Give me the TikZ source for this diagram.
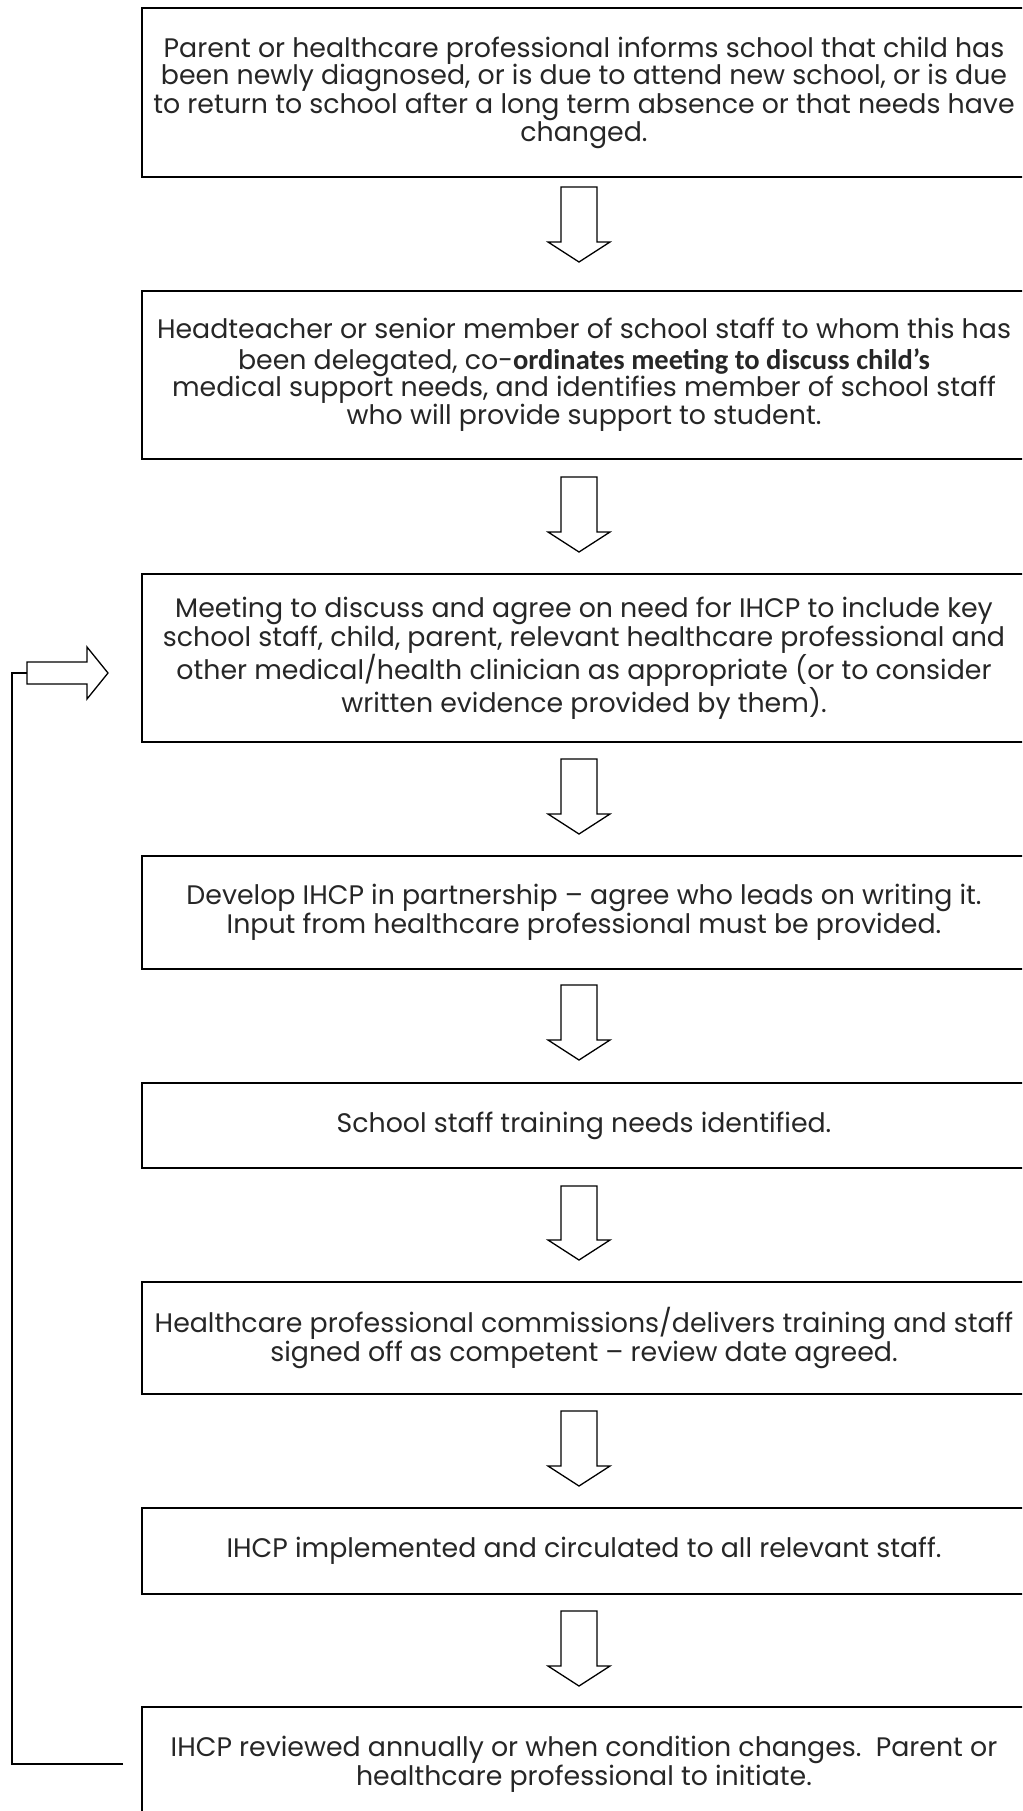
\documentclass[tikz,border=0pt]{standalone}
\usepackage{fontspec}
\setmainfont{Poppins}
\newfontfamily\boldpart{Carlito}
\newcommand\flowdown[2]{\draw[barrow] (561,-#1) -- (597,-#1) -- (597,-#2+20) -- (610,-#2+20) -- (579,-#2) -- (548,-#2+20) -- (561,-#2+20) -- cycle;}
\begin{document}
\begin{tikzpicture}[x=1pt,y=1pt,
  box/.style={draw=black,line width=2.4pt,rectangle,minimum width=884pt,inner sep=0pt,align=center,
    font=\fontsize{26.8}{27.7}\selectfont,text=black!85},
  barrow/.style={draw=black,line width=1.3pt,fill=white,line join=miter},
  fbline/.style={draw=black,line width=1.3pt}]
\useasboundingbox (0,0) rectangle (1022,-1811);
\clip (0,0) rectangle (1022,-1811);
\node[box,minimum height=169pt] (b1) at (584,-92.5) {Parent or healthcare professional informs school that child has\\been newly diagnosed, or is due to attend new school, or is due\\to return to school after a long term absence or that needs have\\changed.};
\node[box,minimum height=168pt] (b2) at (584,-375) {Headteacher or senior member of school staff to whom this has\\[2.5pt]been delegated, co-{\boldpart\bfseries\fontsize{28.5}{27.7}\selectfont ordinates meeting to discuss child’s}\\[-1pt]medical support needs, and identifies member of school staff\\who will provide support to student.};
\node[box,minimum height=168pt] (b3) at (584,-658) {Meeting to discuss and agree on need for IHCP to include key\\school staff, child, parent, relevant healthcare professional and\\other medical/health clinician as appropriate (or to consider\\written evidence provided by them).};
\node[box,minimum height=113pt] (b4) at (584,-912.5) {Develop IHCP in partnership – agree who leads on writing it.\\Input from healthcare professional must be provided.};
\node[box,minimum height=85pt] (b5) at (584,-1125.5) {School staff training needs identified.};
\node[box,minimum height=112pt] (b6) at (584,-1338) {Healthcare professional commissions/delivers training and staff\\signed off as competent – review date agreed.};
\node[box,minimum height=86pt] (b7) at (584,-1551) {IHCP implemented and circulated to all relevant staff.};
\node[box,minimum height=114pt] (b8) at (584,-1764) {IHCP reviewed annually or when condition changes.\ \ Parent or\\healthcare professional to initiate.};
\flowdown{187}{262}
\flowdown{477}{552}
\flowdown{759}{834}
\flowdown{985}{1060}
\flowdown{1186}{1260}
\flowdown{1411}{1486}
\flowdown{1611}{1686}
\coordinate (fbstart) at (123,-1764);
\coordinate (fbturn) at (12,-1764);
\coordinate (fbtop) at (12,-673);
\coordinate (fbend) at (27,-673);
\draw[fbline] (fbstart) -- (fbturn) -- (fbtop) -- (fbend);
\draw[barrow] (fbend) -- (27,-662) -- (87,-662) -- (87,-647) -- (108,-673) -- (87,-699) -- (87,-684) -- (27,-684) -- cycle;
\end{tikzpicture}
\end{document}
